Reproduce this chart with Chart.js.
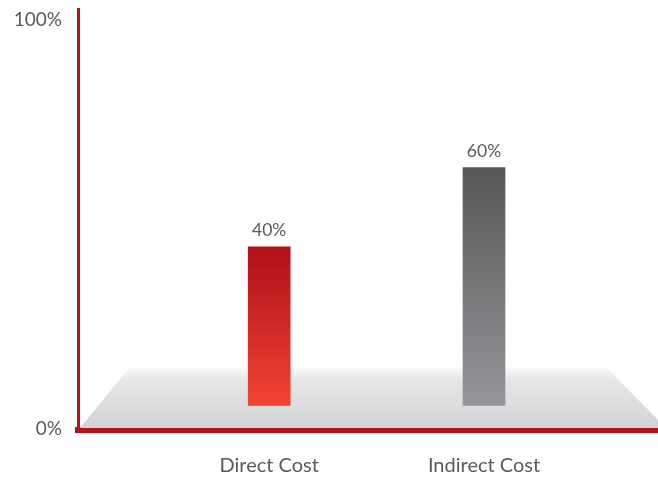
<!DOCTYPE html>
<html>
<head>
<meta charset="utf-8">
<script src="https://cdn.jsdelivr.net/npm/chart.js@4.4.0/dist/chart.umd.min.js"></script>
<style>
  html, body { margin: 0; padding: 0; background: #fff; }
  #wrap { width: 658px; height: 478px; }
</style>
</head>
<body>
<div id="wrap"><canvas id="costChart" width="658" height="478"></canvas></div>
<script>
// chart data
const categories = ['Direct Cost', 'Indirect Cost'];
const values = [40, 60];
const valueLabels = ['40%', '60%'];
const yTickLabels = ['0%', '100%'];
const yTickValues = [-6, 97.3];

const barTops = ['#af0f19', '#575759'];
const barBottoms = ['#f14433', '#959699'];

const textColor = '#5a5a5a';
const axisRed = '#b3111b';
const fontFamily = 'Lato, "Open Sans", sans-serif';

// grey "floor" behind the bars
const floorPlugin = {
    id: 'floor',
    beforeDatasetsDraw(chart) {
        const { ctx, chartArea } = chart;
        const bottom = chartArea.bottom - 2;
        const top = chartArea.bottom - 62;
        const g = ctx.createLinearGradient(0, top - 4, 0, bottom);
        g.addColorStop(0, 'rgba(255,255,255,1)');
        g.addColorStop(0.25, '#e6e7e8');
        g.addColorStop(1, '#d2d3d5');
        ctx.save();
        ctx.fillStyle = g;
        ctx.beginPath();
        ctx.moveTo(chartArea.left + 2, bottom);
        ctx.lineTo(chartArea.left + 51, top);
        ctx.lineTo(chartArea.right - 51, top);
        ctx.lineTo(chartArea.right + 8, bottom);
        ctx.closePath();
        ctx.fill();
        ctx.restore();
    }
};

// value labels above the bars
const valueLabelPlugin = {
    id: 'valueLabels',
    afterDatasetsDraw(chart) {
        const { ctx } = chart;
        const meta = chart.getDatasetMeta(0);
        ctx.save();
        ctx.fillStyle = textColor;
        ctx.font = '17.5px ' + fontFamily;
        ctx.textAlign = 'center';
        ctx.textBaseline = 'middle';
        meta.data.forEach(function(bar, i) {
            ctx.fillText(valueLabels[i], bar.x, bar.y - 16);
        });
        ctx.restore();
    }
};

new Chart(document.getElementById('costChart').getContext('2d'), {
    type: 'bar',
    data: {
        datasets: [{
            data: categories.map(function(c, i) { return { x: i + 1, y: values[i] }; }),
            backgroundColor: function(context) {
                const chart = context.chart;
                const i = context.dataIndex;
                if (!chart.chartArea || i === undefined) return barTops[0];
                const y = chart.scales.y;
                const g = chart.ctx.createLinearGradient(0, y.getPixelForValue(values[i]), 0, y.getPixelForValue(0));
                g.addColorStop(0, barTops[i]);
                g.addColorStop(1, barBottoms[i]);
                return g;
            },
            borderWidth: 0,
            barThickness: 42,
            base: 0
        }]
    },
    options: {
        responsive: false,
        devicePixelRatio: 1,
        animation: false,
        layout: {
            padding: { top: 9, right: 0, left: 0, bottom: 0 }
        },
        plugins: {
            legend: { display: false },
            tooltip: { enabled: false }
        },
        scales: {
            x: {
                type: 'linear',
                offset: false,
                min: 0.11,
                max: 2.81,
                afterBuildTicks: function(scale) {
                    scale.ticks = categories.map(function(c, i) { return { value: i + 1 }; });
                },
                afterFit: function(scale) {
                    scale.height = 48;
                    scale.paddingLeft = 0;
                    scale.paddingRight = 0;
                },
                ticks: {
                    color: textColor,
                    font: { family: fontFamily, size: 20 },
                    padding: 24,
                    maxRotation: 0,
                    autoSkip: false,
                    callback: function(value) {
                        return categories[value - 1];
                    }
                },
                grid: { display: false, drawTicks: false },
                border: { color: axisRed, width: 6 }
            },
            y: {
                min: -6.2,
                max: 100,
                afterBuildTicks: function(scale) {
                    scale.ticks = yTickValues.map(function(v) { return { value: v }; });
                },
                afterFit: function(scale) {
                    scale.width = 78;
                    scale.paddingTop = 0;
                    scale.paddingBottom = 0;
                },
                ticks: {
                    color: textColor,
                    font: { family: fontFamily, size: 19 },
                    padding: 16,
                    callback: function(value, index) {
                        return yTickLabels[index];
                    }
                },
                grid: { display: false, drawTicks: false },
                border: { color: axisRed, width: 3 }
            }
        }
    },
    plugins: [floorPlugin, valueLabelPlugin]
});
</script>
</body>
</html>
